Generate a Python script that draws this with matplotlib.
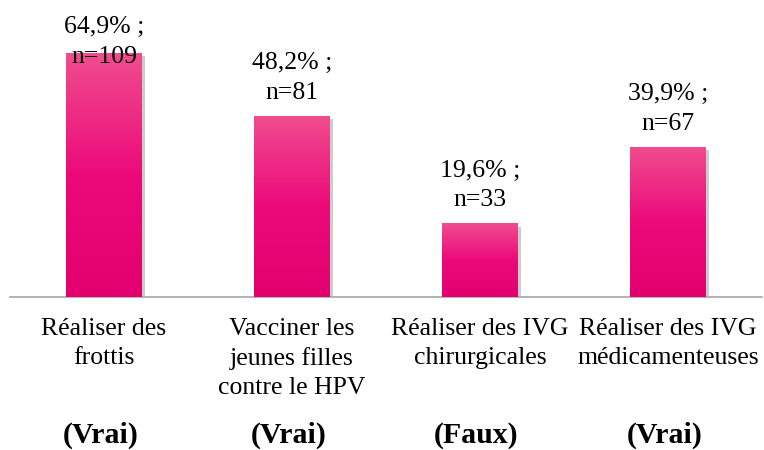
import numpy as np
import matplotlib.pyplot as plt
import matplotlib.patheffects as pe
from matplotlib.colors import LinearSegmentedColormap

plt.rcParams['font.family'] = ['Liberation Serif', 'DejaVu Serif']

# Data
categories = ["Réaliser des\nfrottis", "Vacciner les\njeunes filles\ncontre le HPV",
              "Réaliser des IVG\nchirurgicales", "Réaliser des IVG\nmédicamenteuses"]
percent = [64.9, 48.2, 19.6, 39.9]
counts = [109, 81, 33, 67]
answers = ["(Vrai)", "(Vrai)", "(Faux)", "(Vrai)"]

fig = plt.figure(figsize=(7.64, 4.5), dpi=100)
ax = fig.add_axes([10 / 764, 153 / 450, 752 / 764, 297 / 450])

# vertical pink gradient (light top -> deep bottom)
cmap = LinearSegmentedColormap.from_list("pink", ["#e3006e", "#ec0a7b", "#f04d8e"])
grad = np.linspace(0, 1, 256).reshape(-1, 1)

x = np.arange(len(categories))
bars = ax.bar(x, percent, width=0.40, color="none", edgecolor="none", zorder=2)
for b in bars:
    b.set_path_effects([pe.SimplePatchShadow(offset=(2.5, -2.5), shadow_rgbFace="#808080", alpha=0.4),
                        pe.Normal()])
    x0, y0 = b.get_x(), b.get_y()
    w, h = b.get_width(), b.get_height()
    im = ax.imshow(grad, extent=[x0, x0 + w, y0, y0 + h], origin="lower",
                   cmap=cmap, aspect="auto", zorder=3)
    im.set_clip_path(b)

ax.set_xlim(-0.5, 3.5)
ax.set_ylim(0, 79)

# value labels
for xi, p, n in zip(x, percent, counts):
    lbl = f"{p:.1f}".replace(".", ",") + "% ;\nn=" + str(n)
    ax.text(xi, min(p + 3.2, 61), lbl, ha="center", va="bottom", fontsize=18.5,
            linespacing=1.45, zorder=4)

for s in ["top", "right", "left"]:
    ax.spines[s].set_visible(False)
ax.spines["bottom"].set_color("#a6a6a6")
ax.spines["bottom"].set_linewidth(1.2)
ax.set_yticks([])
ax.set_xticks(x)
ax.set_xticklabels(categories, fontsize=18.5, linespacing=1.4, va="top")
ax.tick_params(axis="x", length=0, pad=15)

for xi, a in zip(x, answers):
    ax.text(xi - 0.02, -0.465, a, transform=ax.get_xaxis_transform(), ha="center", va="center",
            fontsize=21.5, fontweight="bold")

fig.savefig("out.png", dpi=100)
